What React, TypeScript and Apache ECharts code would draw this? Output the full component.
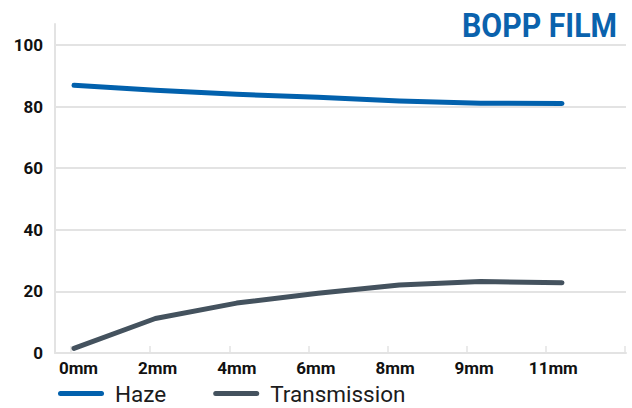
import React, { useEffect, useRef } from "react";
import * as echarts from "echarts";

const categories = ["0mm", "2mm", "4mm", "6mm", "8mm", "9mm", "11mm"];
const hazeValues = [86.9, 85.3, 84.0, 83.0, 81.8, 81.1, 81.0];
const transmissionValues = [1.5, 11.2, 16.2, 19.4, 22.1, 23.2, 22.8];
const seriesNames = ["Haze", "Transmission"];
const titleText = "BOPP FILM";

const HAZE_COLOR = "#0261ad";
const TRANS_COLOR = "#44525e";
const GRID_COLOR = "#e3e3e3";

export default function App() {
  const ref = useRef<HTMLDivElement>(null);
  useEffect(() => {
    if (!ref.current) return;
    const chart = echarts.init(ref.current, undefined, { renderer: "svg" });
    const labelFont = { fontFamily: "Roboto", fontWeight: "bold" as const, fontSize: 17, color: "#111" };
    const pill = "path://M2.5,0 H43.5 A2.5,2.5 0 0 1 43.5,5 H2.5 A2.5,2.5 0 0 1 2.5,0 Z";
    chart.setOption({
      animation: false,
      backgroundColor: "#fff",
      graphic: [
        {
          type: "text",
          x: 617,
          y: 25,
          scaleX: 0.89,
          style: {
            text: titleText,
            font: "700 34px Roboto",
            fill: "#0a62ad",
            textAlign: "right",
            textVerticalAlign: "middle",
          },
        },
      ],
      legend: {
        left: 58,
        top: 382,
        padding: 0,
        itemGap: 47,
        itemWidth: 46,
        itemHeight: 5,
        icon: pill,
        data: seriesNames,
        textStyle: { fontFamily: "Roboto", fontSize: 22.5, color: "#1c1c1c", padding: [0, 0, 0, 6] },
      },
      grid: [
        { left: 55, right: 6, top: 24, bottom: 55 },
        { left: 55, right: 6, top: 45, bottom: 55 },
        { left: 71, right: 7, top: 45, bottom: 55 },
        { left: 74, right: 70, top: 45, bottom: 55 },
      ],
      xAxis: [
        { gridIndex: 0, type: "value", show: false },
        {
          gridIndex: 1,
          type: "value",
          min: 0,
          max: 1,
          axisLine: { show: true, lineStyle: { color: GRID_COLOR, width: 2 } },
          axisTick: { show: false },
          axisLabel: { show: false },
          splitLine: { show: false },
        },
        {
          gridIndex: 2,
          type: "category",
          boundaryGap: false,
          data: [...categories, ""],
          axisLine: { show: false },
          axisTick: { show: true, inside: true, length: 7, interval: 0, lineStyle: { color: GRID_COLOR, width: 1.5 } },
          axisLabel: { ...labelFont, interval: 0, margin: 6, padding: [0, 0, 0, 15] },
          splitLine: { show: false },
        },
        {
          gridIndex: 3,
          type: "category",
          boundaryGap: false,
          data: categories,
          show: false,
        },
      ],
      yAxis: [
        {
          gridIndex: 0,
          type: "value",
          min: 0,
          max: 1,
          axisLine: { show: true, lineStyle: { color: GRID_COLOR, width: 2 } },
          axisTick: { show: false },
          axisLabel: { show: false },
          splitLine: { show: false },
        },
        {
          gridIndex: 1,
          type: "value",
          min: 0,
          max: 100,
          interval: 20,
          axisLine: { show: false },
          axisTick: { show: false },
          axisLabel: { ...labelFont, margin: 12 },
          splitLine: { show: true, lineStyle: { color: GRID_COLOR, width: 2 } },
        },
        { gridIndex: 2, type: "value", min: 0, max: 100, show: false },
        { gridIndex: 3, type: "value", min: 0, max: 100, show: false },
      ],
      series: [
        {
          name: seriesNames[0],
          type: "line",
          xAxisIndex: 3,
          yAxisIndex: 3,
          data: hazeValues,
          symbol: "none",
          color: HAZE_COLOR,
          lineStyle: { width: 5, color: HAZE_COLOR, cap: "round", join: "round" },
        },
        {
          name: seriesNames[1],
          type: "line",
          xAxisIndex: 3,
          yAxisIndex: 3,
          data: transmissionValues,
          symbol: "none",
          color: TRANS_COLOR,
          lineStyle: { width: 5, color: TRANS_COLOR, cap: "round", join: "round" },
        },
      ],
    });
    return () => chart.dispose();
  }, []);
  return (
    <div
      ref={ref}
      style={{ position: "fixed", left: 0, top: 0, width: 632, height: 408 }}
    />
  );
}
